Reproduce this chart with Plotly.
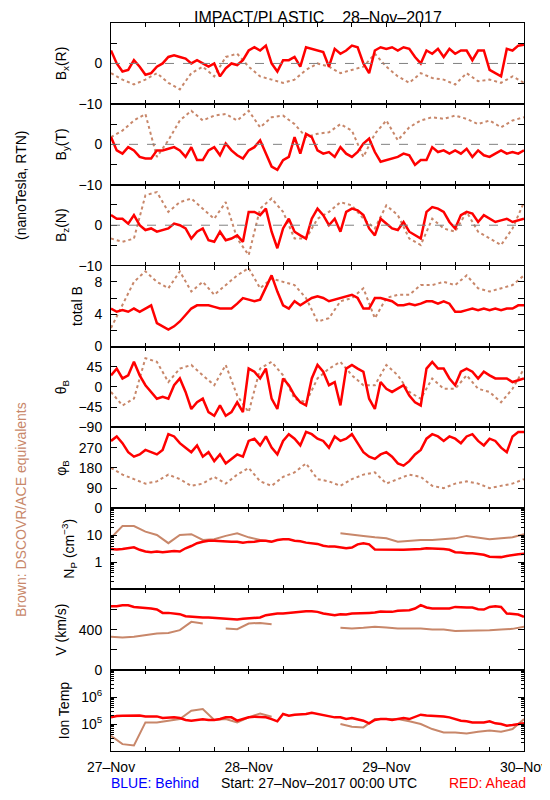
import pandas as pd
import plotly.graph_objects as go
from plotly.subplots import make_subplots

# ---------------- data ----------------
t_red = pd.date_range("2017-11-27 00:00", periods=73, freq="h")      # hourly
t_brown = pd.date_range("2017-11-27 00:00", periods=37, freq="2h")   # 2-hourly

bx_red = [3.2, 0, -2, -1.6, 0.8, -0.8, -2.8, -2.4, -0.8, 0,
          1.6, 2, 1.6, 1.2, 0, 0.8, 0, -0.8, 0, -3.2,
          -1.2, 0, -0.4, 0.8, 3.2, 4, 3.2, 4.4, 0, -2,
          0.8, 0.8, 1.6, -0.8, 4, 3.6, 3.2, 2.8, -0.8, 3.6,
          2.4, 3.2, 4.4, 4, 0, -2.4, 3.2, 4, 3.6, 4,
          3.2, 4, 3.6, 1.6, 0, 3.2, 2.4, 3.6, 1.6, 3.6,
          2.4, 3.2, 3.2, 0.8, 3.2, 3.2, -1.6, -2.4, -3.2, 3.6,
          3.2, 4.4, 4.6]
bx_brown = [-2.4, -4, -5.2, -4, -2.4, -4.8, -6.4, -2.4, -0.8, -3.2,
            1.6, 2.4, -0.8, -3.2, -4, -4.8, -4, -1.6, 0, -0.8,
            -2.4, -1.6, -0.8, 2.4, -0.8, -3.2, -4.8, -2.4, -3.6, -4,
            -5.2, -2.4, -4.4, -4, -4.8, -3.2, -4.8]

by_red = [1.8, -1.5, -2.3, -0.7, -1.5, -3.1, -3.5, -3.5, -1.5, -1.5,
          -1.1, -0.7, -1.5, -3.1, -0.7, -3.9, -3.9, -1.5, -0.7, -2.7,
          0.2, -1.5, -2.7, -3.5, -1.5, -0.7, 1.0, -2.3, -5.5, -6.3,
          -3.9, -3.1, 1.8, -2.3, 2.6, 1.8, -1.5, -2.3, -1.9, -3.1,
          -0.7, -2.3, -3.1, -1.9, 0.2, 1.4, -1.9, -4.3, -3.9, -3.5,
          -3.1, -2.3, -2.7, -5.1, -3.9, -3.9, -0.7, -1.9, -1.5, -2.3,
          -1.5, -2.3, -1.1, -3.1, -1.5, -2.7, -3.1, -2.3, -1.5, -2.3,
          -1.9, -2.3, -1.5]
by_brown = [1.8, 3.4, 5.9, 7.5, -3.1, 1.0, 5.9, 8.3, 5.9, 7.1,
            7.5, 5.9, 8.3, 4.2, 6.7, 7.1, 5.0, 1.8, 2.6, 3.0,
            5.0, 3.4, -3.1, 2.6, 5.9, 1.0, 4.2, 5.9, 6.7, 6.3,
            7.1, 6.3, 5.0, 5.9, 4.2, 5.9, 6.7]

bz_red = [2.5, 1.6, 1.6, 0.4, 2.5, 0, -1.2, -0.8, -1.6, -1.2,
          -0.8, 0.4, 0, -0.8, -3.3, -1.6, -0.8, -3.7, -4.1, -1.6,
          -3.7, -3.3, -2.5, -4.1, 3.3, 3.3, 2.5, 4.1, -1.6, -5.7,
          -0.8, 1.6, -1.6, -2.5, -3.3, 1.6, 4.1, 2.5, 0, 1.6,
          -1.6, 3.3, 4.1, 3.7, 2.5, -0.8, -2.5, 1.6, 0.4, -0.8,
          -1.2, 0.8, -1.6, -2.5, -3.3, 3.3, 4.5, 4.1, 3.3, 0.8,
          -0.8, 2.5, 3.3, 2.9, 0.8, 2.5, 1.6, 0.8, 1.2, 1.6,
          0.8, 1.2, 1.6]
bz_brown = [-3.3, -4.1, -3.3, 7.4, 8.2, 3.3, 5.7, 6.6, 4.1, 1.6,
            5.7, -3.3, -7.4, 4.1, 6.6, 3.3, -3.3, -3.3, 1.6, 3.3,
            5.7, 4.9, 1.6, -0.8, 4.9, 2.5, -3.3, -4.9, 1.6, -0.8,
            -1.6, 3.3, -1.6, -3.3, -4.9, -0.8, 5.7]

bt_red = [4.7, 4.3, 4.5, 4.3, 4.7, 4.3, 4.7, 5.1, 2.9, 2.5,
          2.1, 2.5, 3.1, 3.9, 4.7, 5.1, 5.1, 5.1, 4.9, 4.7,
          4.7, 4.7, 5.3, 6.0, 5.8, 5.6, 5.8, 7.2, 8.8, 6.8,
          5.1, 4.7, 5.6, 5.1, 5.6, 6.0, 6.2, 6.0, 5.6, 5.8,
          6.0, 6.2, 6.4, 6.0, 4.7, 4.7, 6.0, 6.0, 5.8, 5.6,
          5.1, 5.1, 5.3, 5.1, 5.3, 5.6, 5.6, 5.3, 5.6, 5.3,
          4.3, 4.3, 4.5, 4.7, 4.5, 4.7, 4.5, 4.7, 4.5, 4.7,
          4.7, 5.1, 5.1]
bt_brown = [2.3, 5.1, 8.0, 9.3, 8.0, 7.2, 9.3, 6.8, 8.0, 6.4,
            7.6, 8.8, 9.7, 7.2, 8.4, 8.0, 7.6, 6.0, 3.1, 3.5,
            5.6, 6.0, 7.2, 3.5, 6.0, 6.4, 6.4, 7.6, 7.6, 8.0,
            7.6, 8.8, 7.2, 6.8, 7.2, 7.6, 8.8]

theta_red = [26, 41, 19, 26, 56, 26, 4, -11, -26, -22,
             -26, 4, 19, -11, -49, -34, -26, -56, -64, -41,
             -64, -56, -34, -56, 41, 34, 19, 41, -26, -49,
             19, 4, -19, -34, -41, 19, 49, 34, 4, 11,
             -41, 41, 49, 41, 34, -26, -49, 11, -4, -11,
             -4, 4, -19, -34, -41, 41, 56, 41, 41, 19,
             4, 34, 41, 34, 19, 34, 26, 19, 19, 19,
             11, 15, 19]
theta_brown = [-11, -41, -26, 64, 56, 11, 41, 49, 26, 4,
               49, -19, -56, 41, 56, 26, -26, -34, 19, 41,
               56, 26, 4, 4, 49, 26, -11, -26, 19, -4,
               -4, 26, -4, -11, -34, -4, 41]

phi_red = [300, 320, 290, 250, 230, 240, 260, 250, 240, 260,
           330, 320, 290, 270, 250, 280, 230, 250, 210, 240,
           200, 220, 240, 230, 300, 310, 280, 320, 270, 240,
           300, 330, 310, 280, 340, 330, 310, 300, 270, 320,
           300, 310, 330, 290, 250, 230, 220, 240, 250, 230,
           200, 190, 210, 240, 260, 310, 330, 320, 300, 320,
           310, 290, 320, 330, 300, 280, 310, 300, 270, 250,
           320, 340, 340]
phi_brown = [180, 150, 130, 110, 120, 150, 130, 100, 110, 140,
             110, 150, 180, 120, 100, 140, 160, 200, 130, 120,
             100, 130, 150, 160, 110, 130, 150, 140, 100, 90,
             110, 120, 110, 90, 100, 110, 130]

np_red = [3.1, 3.0, 3.1, 3.3, 3.6, 2.9, 2.5, 2.35, 2.5, 2.35,
          2.5, 2.6, 2.5, 3.3, 4.0, 5.1, 5.8, 6.3, 6.3, 6.0,
          5.8, 5.8, 5.8, 5.35, 5.7, 5.8, 6.3, 6.3, 5.8, 6.7,
          7.1, 7.1, 6.3, 6.0, 5.35, 5.1, 4.8, 4.1, 3.8, 3.8,
          3.6, 3.3, 3.5, 4.6, 5.1, 4.6, 3.0, 2.95, 2.9, 2.9,
          2.9, 2.9, 3.0, 3.0, 3.1, 3.3, 3.3, 3.3, 3.1, 2.9,
          2.35, 2.3, 2.15, 2.15, 2.05, 1.9, 1.6, 1.55, 1.55, 1.7,
          1.9, 2.0, 2.05]
np_brown = [8, 22, 22, 13.7, 10.3, 5.1, 10.3, 11, 6.7, 7.1,
            9.5, 11.8, 8.4, 6.7, 5.8, None, None, None, None, None,
            11.8, 10.3, 9.5, 8.4, 7.7, 5.8, 6.3, 6.7, 6.7, 7.1,
            7.7, 9.5, 8.4, 7.1, 7.7, 8.4, 11]

v_red = [632, 632, 642, 642, 625, 619, 619, 609, 599, 566,
         566, 560, 553, 533, 527, 527, 520, 520, 517, 513,
         513, 510, 500, 507, 510, 513, 520, 543, 553, 560,
         560, 566, 576, 576, 583, 583, 576, 560, 553, 543,
         553, 550, 560, 560, 566, 566, 569, 579, 576, 576,
         586, 586, 592, 609, 642, 619, 609, 609, 609, 609,
         625, 619, 619, 619, 602, 599, 625, 632, 625, 560,
         553, 550, 527]
v_brown = [329, 322, 329, 345, 362, 368, 395, 477, 461, None,
           411, 405, 461, 467, 454, None, None, None, None, None,
           418, 411, 418, 428, 421, 411, 411, 411, 401, 401,
           388, 388, 388, 395, 401, 408, 428]

# ion temperature in units of 1e5 K
temp_red_e5 = [1.77, 1.98, 2.04, 2.09, 2.15, 2.09, 1.92, 1.87, 1.92, 1.67,
               1.77, 1.77, 1.67, 1.41, 1.33, 1.41, 1.49, 1.41, 1.41, 1.53,
               1.77, 1.77, 1.33, 1.53, 1.77, 1.87, 1.87, 1.77, 1.53, 1.26,
               2.35, 2.04, 2.22, 2.22, 2.35, 2.63, 2.35, 2.22, 1.98, 1.77,
               1.77, 1.53, 1.67, 1.53, 1.33, 1.06, 1.41, 1.53, 1.53, 1.41,
               1.53, 1.67, 1.53, 1.87, 2.22, 2.09, 2.04, 2.04, 1.92, 1.77,
               1.53, 1.33, 1.26, 1.15, 1.15, 1.15, 1.26, 1.06, 1.00, 0.87,
               0.92, 1.00, 1.06]
temp_brown_e5 = [0.37, 0.18, 0.16, 1.15, 1.15, 1.33, 1.53, 3.1, 3.6, 1.41,
                 1.53, 1.15, 1.77, 2.47, 1.87, None, None, None, None, None,
                 1.0, 0.80, 0.75, 1.53, 1.53, 1.53, 1.26, 1.0, 0.65, 0.49,
                 0.49, 0.45, 0.52, 0.57, 0.52, 0.65, 1.53]

x_tick_labels = ["27–Nov", "28–Nov", "29–Nov", "30–Nov"]

# ---------------- figure ----------------
RED = "#ff0000"
BROWN = "#c8876a"
FONT = "Liberation Sans"

temp_red = [v * 1e5 for v in temp_red_e5]
temp_brown = [None if v is None else v * 1e5 for v in temp_brown_e5]

fig = make_subplots(rows=9, cols=1, shared_xaxes=True, vertical_spacing=0)

log_minor_np = [m * 10.0 ** e for e in (-1, 0, 1) for m in range(2, 10)]
log_minor_t = [m * 10.0 ** e for e in (4, 5, 6) for m in range(2, 10)]

panels = [
    (bx_brown, bx_red, "B<sub>x</sub>(R)", "field",
     dict(range=[-10, 10], tickvals=[-10, -5, 0, 5, 10], ticktext=["−10", "", "0", "", ""])),
    (by_brown, by_red, "B<sub>y</sub>(T)", "field",
     dict(range=[-10, 10], tickvals=[-10, -5, 0, 5, 10], ticktext=["−10", "", "0", "", ""])),
    (bz_brown, bz_red, "B<sub>z</sub>(N)", "field",
     dict(range=[-10, 10], tickvals=[-10, -5, 0, 5, 10], ticktext=["−10", "", "0", "", ""])),
    (bt_brown, bt_red, "total B", "field",
     dict(range=[0, 10], tickvals=[0, 2, 4, 6, 8, 10], ticktext=["0", "", "4", "", "8", ""])),
    (theta_brown, theta_red, "θ<sub>B</sub>", "field",
     dict(range=[-90, 90], tickvals=[-90, -45, 0, 45, 90], ticktext=["−90", "−45", "0", "45", ""])),
    (phi_brown, phi_red, "φ<sub>B</sub>", "field",
     dict(range=[0, 360], tickvals=[0, 90, 180, 270, 360], ticktext=["0", "90", "180", "270", ""])),
    (np_brown, np_red, "N<sub>P</sub> (cm<sup>−3</sup>)", "plasma",
     dict(type="log", range=[-1, 2], tickvals=[0.1, 1, 10, 100], ticktext=["", "1", "10", ""],
          minor=dict(tickvals=log_minor_np, ticks="inside", ticklen=3, tickcolor="black"))),
    (v_brown, v_red, "V (km/s)", "plasma",
     dict(range=[0, 800], tickvals=[0, 200, 400, 600, 800], ticktext=["0", "", "400", "", ""])),
    (temp_brown, temp_red, "Ion Temp", "plasma",
     dict(type="log", range=[4, 7], tickvals=[1e4, 1e5, 1e6, 1e7],
          ticktext=["", "10<sup>5</sup>", "10<sup>6</sup>", ""],
          minor=dict(tickvals=log_minor_t, ticks="inside", ticklen=3, tickcolor="black"))),
]

for i, (brown, red, title, kind, yopts) in enumerate(panels, start=1):
    if kind == "field":
        bline = dict(color=BROWN, width=2, dash="dot")
        rline = dict(color=RED, width=2.5)
    else:
        bline = dict(color=BROWN, width=2)
        rline = dict(color=RED, width=2.5)
    fig.add_trace(go.Scatter(x=t_brown, y=brown, mode="lines", line=bline,
                             connectgaps=False, showlegend=False, hoverinfo="skip"),
                  row=i, col=1)
    fig.add_trace(go.Scatter(x=t_red, y=red, mode="lines", line=rline,
                             showlegend=False, hoverinfo="skip"),
                  row=i, col=1)
    fig.update_yaxes(row=i, col=1,
                     title=dict(text=title, font=dict(family=FONT, size=14, color="black"), standoff=8),
                     **yopts)
    if i <= 3:
        fig.add_hline(y=0, line=dict(color="#808080", width=1, dash="dash"), row=i, col=1)

fig.update_yaxes(showgrid=False, zeroline=False, showline=True, linecolor="black", linewidth=1,
                 mirror="ticks", ticks="inside", ticklen=6, tickcolor="black", tickmode="array",
                 ticklabelstandoff=5,
                 tickfont=dict(family=FONT, size=14, color="black"))

day_ticks = pd.date_range("2017-11-27", periods=4, freq="D")
fig.update_xaxes(showgrid=False, zeroline=False, showline=True, linecolor="black", linewidth=1,
                 mirror="ticks", ticks="inside", ticklen=4, tickcolor="black",
                 range=[day_ticks[0], day_ticks[-1]],
                 tickmode="array", tickvals=day_ticks, ticktext=x_tick_labels,
                 minor=dict(dtick=6 * 3600 * 1000, ticks="inside", ticklen=4, tickcolor="black"),
                 ticklabelstandoff=3,
                 tickfont=dict(family=FONT, size=14, color="black"))

# The page body adds an 8 px margin, so the figure is laid out in page
# pixels shifted by OFF.
OFF = 8
W, H = 550 - OFF, 800 - OFF
left, right, top, bottom = 111, 524, 23, 751          # plot box in page pixels
L, T = left - OFF, top - OFF
R, B = W - (right - OFF), H - (bottom - OFF)
pw, ph = right - left, bottom - top


def px(x):
    return (x - left) / pw


def py(y):
    return (bottom - y) / ph


ann = [
    dict(text="IMPACT/PLASTIC\u00a0\u00a0\u00a0\u00a028–Nov–2017", x=px(317.5), y=py(17), size=16, color="black", angle=0),
    dict(text="(nanoTesla, RTN)", x=px(21), y=py(186), size=14, color="black", angle=-90),
    dict(text="Brown: DSCOVR/ACE equivalents", x=px(21), y=py(510), size=14, color=BROWN, angle=-90),
    dict(text="BLUE: Behind", x=px(155), y=py(783), size=14, color="#0000ff", angle=0),
    dict(text="Start: 27–Nov–2017 00:00 UTC", x=px(319), y=py(783), size=14, color="black", angle=0),
    dict(text="RED: Ahead", x=px(487), y=py(783), size=14, color=RED, angle=0),
]
for a in ann:
    fig.add_annotation(text=a["text"], x=a["x"], y=a["y"], xref="paper", yref="paper",
                       xanchor="center", yanchor="middle", showarrow=False, textangle=a["angle"],
                       font=dict(family=FONT, size=a["size"], color=a["color"]))

fig.update_layout(width=W, height=H, margin=dict(l=L, r=R, t=T, b=B, autoexpand=False),
                  paper_bgcolor="white", plot_bgcolor="white", showlegend=False)

fig.write_html("out.html")
